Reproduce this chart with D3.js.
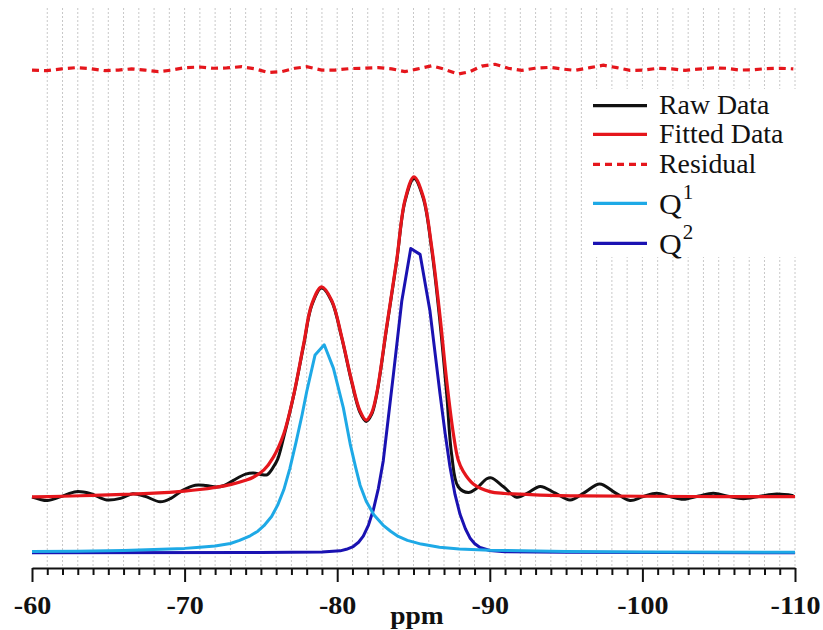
<!DOCTYPE html>
<html>
<head>
<meta charset="utf-8">
<script src="https://cdn.jsdelivr.net/npm/d3@7"></script>
<style>
  body { margin: 0; background: #fff; }
  svg { display: block; }
</style>
</head>
<body>
<div id="chart"></div>
<script>
// chemical shift (ppm) and intensity
var rawPpm = [-60.0,-60.5,-61.0,-61.9,-62.9,-63.8,-64.9,-65.8,-66.6,-67.4,-68.4,-69.1,-69.9,-70.7,-71.4,-72.1,-72.6,-73.2,-74.0,-74.5,
  -75.0,-75.4,-75.8,-76.1,-76.5,-77.15,-77.8,-78.33,-78.98,-79.64,-80.29,-80.95,-81.49,-81.9,-82.25,-82.59,-83.24,-83.9,-84.44,-85.03,
  -85.64,-86.19,-86.74,-87.17,-87.5,-87.93,-88.6,-89.14,-89.8,-90.1,-90.9,-91.76,-92.5,-93.3,-94.3,-95.26,-96.2,-97.2,-98.2,-99.19,
  -100.0,-100.94,-101.8,-102.68,-103.7,-104.65,-105.6,-106.61,-107.7,-108.8,-109.9];
var rawVal = [18.1,17.4,17.0,18.3,19.9,19.3,17.2,17.7,19.2,18.4,16.6,17.7,20.4,22.0,21.9,21.4,21.9,23.6,25.6,26.0,
  25.5,25.4,27.8,30.5,37.8,51.3,67.6,80.6,86.3,82.0,70.2,55.6,45.8,42.8,45.0,51.6,73.3,95.1,114.6,122.0,
  115.6,99.0,75.0,52.0,32.0,21.5,19.6,21.0,24.1,24.4,21.5,18.1,19.5,21.6,19.4,17.2,19.6,22.4,19.6,17.0,
  18.2,19.4,18.3,17.4,18.5,19.4,18.4,17.6,18.4,19.1,18.6];

var fitPpm = [-60,-62,-64,-66,-68,-70,-71,-72,-73,-74,-74.5,-75.2,-75.8,-76.5,-77.15,-77.8,-78.33,-78.98,-79.64,-80.29,
  -80.95,-81.49,-81.9,-82.25,-82.59,-83.24,-83.9,-84.44,-85.03,-85.64,-86.19,-86.74,-87.17,-87.61,-87.93,-88.26,-88.92,-90.0,-91.0,-93.3,
  -96,-100,-105,-110];
var fitVal = [18.2,18.4,18.7,19.0,19.4,20.1,20.6,21.3,22.2,23.6,24.6,27.0,31.0,38.8,51.5,68.0,81.0,86.7,82.3,70.5,
  56.0,46.3,43.2,45.5,52.0,73.7,95.5,115.0,122.6,116.1,99.8,77.0,56.3,38.9,30.2,26.5,22.4,19.9,19.3,18.8,
  18.5,18.4,18.3,18.3];

var resPpm = [-60.0,-60.96,-61.95,-62.88,-63.8,-64.78,-65.66,-66.53,-67.41,-68.28,-69.15,-70.03,-71.01,-71.88,-72.76,-73.74,-74.61,-75.49,-76.36,-77.23,
  -78.0,-78.98,-79.86,-80.84,-81.71,-82.69,-83.57,-84.44,-85.21,-86.19,-86.95,-87.94,-88.7,-89.47,-90.34,-91.21,-92.09,-92.96,-93.94,-94.82,
  -95.58,-96.57,-97.44,-98.32,-99.19,-100.06,-101.04,-101.92,-102.79,-103.66,-104.65,-105.52,-106.39,-107.27,-108.15,-109.02,-109.89];
var resVal = [157.4,157.2,157.8,158.2,157.9,157.2,157.4,157.8,157.4,156.9,157.4,158.2,158.4,158.0,158.1,158.5,157.8,156.6,156.9,158.0,
  158.5,157.4,157.4,157.9,158.0,158.2,157.8,156.9,157.7,158.8,157.8,156.1,156.9,158.7,159.3,158.0,157.3,158.0,158.3,157.7,
  157.3,158.2,159.0,158.2,157.3,157.4,158.0,157.8,157.3,157.7,158.1,158.0,157.4,157.5,157.9,158.0,157.8];

var q1Ppm = [-60,-63,-66,-68,-70,-71,-72,-73,-73.6,-74.3,-74.8,-75.2,-75.7,-76.1,-76.5,-76.9,-77.3,-77.7,-78.0,-78.55,
  -79.15,-79.75,-80.4,-80.85,-81.2,-81.5,-81.9,-82.4,-83.0,-83.5,-84.0,-84.6,-85.5,-86.7,-88,-90,-95,-100,-110];
var q1Val = [0.4,0.5,0.7,1.0,1.4,1.8,2.2,3.0,4.0,5.5,7.0,8.8,11.8,15.5,20.5,27.5,36.0,45.0,52.5,64.5,
  67.8,60.2,47.3,35.5,28.0,22.0,16.8,12.4,9.0,7.0,5.3,4.0,2.8,1.8,1.2,0.8,0.4,0.25,0.1];

var q2Ppm = [-60,-75,-79,-80.2,-80.6,-81.05,-81.4,-81.71,-82.05,-82.37,-82.7,-83.02,-83.35,-83.68,-84.23,-84.82,-85.43,-86.08,-86.74,-87.07,
  -87.39,-87.72,-88.05,-88.4,-88.7,-89.0,-89.36,-90.0,-91,-95,-110];
var q2Val = [0,0.05,0.2,0.6,1.1,2.0,3.4,5.4,9.0,14.0,21.0,30.0,44.0,58.0,82.0,99.2,97.3,78.8,51.7,39.0,
  28.0,19.0,12.5,7.8,4.8,3.0,1.7,0.7,0.3,0.1,0];

var xTicks = [-60, -70, -80, -90, -100, -110];
var legendLabels = ["Raw Data", "Fitted Data", "Residual", "Q", "Q"];
var legendSups = ["", "", "", "1", "2"];

var colors = { raw: "#111111", fit: "#e5161c", q1: "#1ea9e6", q2: "#1a12b2" };
var serif = "'Liberation Serif', 'Times New Roman', serif";

var width = 823, height = 630;
var x = d3.scaleLinear().domain([-60, -110]).range([32, 795]);
var y = d3.scaleLinear().domain([-5, 177]).range([568, 10]);

var svg = d3.select("#chart").append("svg")
    .attr("width", width)
    .attr("height", height);

svg.append("rect").attr("width", width).attr("height", height).attr("fill", "#fff");

// dotted vertical grid, one per ppm
svg.append("g")
    .selectAll("line")
    .data(d3.range(-61, -110.5, -1))
    .join("line")
    .attr("x1", d => x(d)).attr("x2", d => x(d))
    .attr("y1", 8).attr("y2", 568)
    .attr("stroke", "#c8c8c8")
    .attr("stroke-width", 1)
    .attr("stroke-dasharray", "2,2");

function zip(ps, vs) { return ps.map((p, i) => [p, vs[i]]); }

var smooth = d3.line().x(d => x(d[0])).y(d => y(d[1])).curve(d3.curveCatmullRom.alpha(0.5));
var straight = d3.line().x(d => x(d[0])).y(d => y(d[1]));

svg.append("path").datum(zip(resPpm, resVal))
    .attr("fill", "none").attr("stroke", colors.fit).attr("stroke-width", 3.2)
    .attr("stroke-dasharray", "7,5")
    .attr("d", straight);

svg.append("path").datum(zip(q2Ppm, q2Val))
    .attr("fill", "none").attr("stroke", colors.q2).attr("stroke-width", 3)
    .attr("stroke-linejoin", "round")
    .attr("d", straight);

svg.append("path").datum(zip(q1Ppm, q1Val))
    .attr("fill", "none").attr("stroke", colors.q1).attr("stroke-width", 3)
    .attr("stroke-linejoin", "round")
    .attr("d", straight);

svg.append("path").datum(zip(rawPpm, rawVal))
    .attr("fill", "none").attr("stroke", colors.raw).attr("stroke-width", 3)
    .attr("d", smooth);

svg.append("path").datum(zip(fitPpm, fitVal))
    .attr("fill", "none").attr("stroke", colors.fit).attr("stroke-width", 3.2)
    .attr("d", smooth);

// x axis: minor ticks each ppm, major every 10
var minorTicks = d3.range(-60, -110.5, -1).filter(d => d % 10 != 0);
var minorAx = svg.append("g")
    .attr("transform", "translate(0,568)")
    .call(d3.axisBottom(x).tickValues(minorTicks).tickSize(7).tickSizeOuter(0).tickFormat(""));
minorAx.select(".domain").remove();
minorAx.selectAll("line").attr("stroke", "#111").attr("stroke-width", 2);

var ax = svg.append("g")
    .attr("transform", "translate(0,568)")
    .call(d3.axisBottom(x).tickValues(xTicks).tickSize(14).tickSizeOuter(0).tickPadding(14).tickFormat(d => d));
ax.select(".domain").attr("stroke", "#111").attr("stroke-width", 2);
ax.selectAll("line").attr("stroke", "#111").attr("stroke-width", 2);
ax.selectAll("text")
    .attr("font-family", serif)
    .attr("font-weight", "bold")
    .attr("font-size", 26)
    .attr("fill", "#111")
    .attr("transform", "scale(1.08,1)");

svg.append("text")
    .attr("transform", "translate(417,624) scale(1.1,1)")
    .attr("text-anchor", "middle")
    .attr("font-family", serif)
    .attr("font-weight", "bold")
    .attr("font-size", 25)
    .attr("fill", "#111")
    .text("ppm");

// legend
var rowY = [105.7, 134.3, 164.3, 203.3, 243.3];
var textY = [113.5, 142.5, 172.5, 214, 253.5];
var legendColors = [colors.raw, colors.fit, colors.fit, colors.q1, colors.q2];

svg.append("rect")
    .attr("x", 586).attr("y", 89).attr("width", 212).attr("height", 168)
    .attr("fill", "#fff");

var lg = svg.append("g");
legendLabels.forEach(function (lab, i) {
    lg.append("line")
        .attr("x1", 593).attr("x2", 647)
        .attr("y1", rowY[i]).attr("y2", rowY[i])
        .attr("stroke", legendColors[i])
        .attr("stroke-width", 3.2)
        .attr("stroke-dasharray", i == 2 ? "7,5" : null);
    var t = lg.append("text")
        .attr("transform", "translate(659," + textY[i] + ") scale(1.05,1)")
        .attr("font-family", serif)
        .attr("font-size", legendSups[i] ? 30 : 26.5)
        .attr("fill", "#111")
        .text(lab);
    if (legendSups[i]) {
        t.append("tspan")
            .attr("font-size", 20)
            .attr("dy", -15)
            .attr("dx", 1)
            .text(legendSups[i]);
    }
});
</script>
</body>
</html>
